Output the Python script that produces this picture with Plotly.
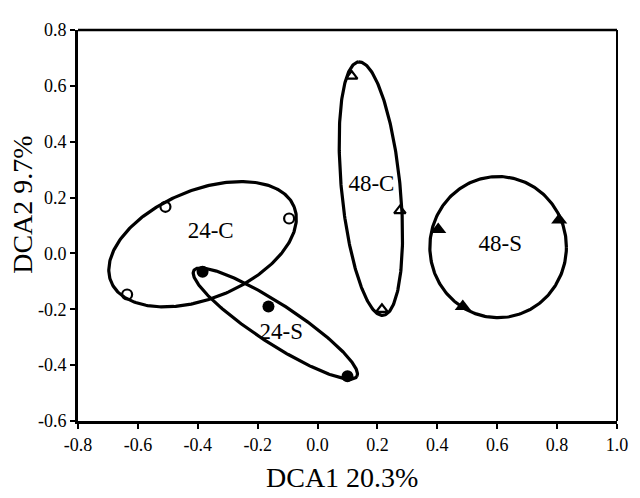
import numpy as np
import plotly.graph_objects as go

# Sample points (DCA1, DCA2)
c24_x = [-0.508, -0.095, -0.636]
c24_y = [0.167, 0.125, -0.147]
s24_x = [-0.384, -0.164, 0.100]
s24_y = [-0.066, -0.190, -0.440]
c48_x = [0.114, 0.275, 0.215]
c48_y = [0.635, 0.153, -0.200]
s48_x = [0.403, 0.807, 0.485]
s48_y = [0.086, 0.120, -0.190]

# Group ellipses: centre and two conjugate half-axis vectors (data units)
ell_names = ["24-C", "24-S", "48-C", "48-S"]
ell_cx = [-0.384, -0.141, 0.178, 0.603]
ell_cy = [0.033, -0.251, 0.232, 0.0226]
ell_ux = [0.3057, 0.272, -0.041, 0.228]
ell_uy = [0.1344, -0.190, 0.4537, 0.0]
ell_vx = [-0.068, 0.0357, 0.0976, 0.0]
ell_vy = [0.1796, 0.0593, 0.0102, 0.2527]

# Group labels
lab_x = [-0.357, -0.121, 0.180, 0.610]
lab_y = [0.076, -0.285, 0.245, 0.030]

x_ticks = [-0.8, -0.6, -0.4, -0.2, 0.0, 0.2, 0.4, 0.6, 0.8, 1.0]
x_ticktext = ["-0.8", "-0.6", "-0.4", "-0.2", "0.0", "0.2", "0.4", "0.6", "0.8", "1.0"]
y_ticks = [-0.6, -0.4, -0.2, 0.0, 0.2, 0.4, 0.6, 0.8]
y_ticktext = ["-0.6", "-0.4", "-0.2", "0.0", "0.2", "0.4", "0.6", "0.8"]

FONT = "Liberation Serif, Times New Roman, serif"

fig = go.Figure()

t = np.linspace(0, 2 * np.pi, 300)
for i in range(len(ell_names)):
    ex = ell_cx[i] + ell_ux[i] * np.cos(t) + ell_vx[i] * np.sin(t)
    ey = ell_cy[i] + ell_uy[i] * np.cos(t) + ell_vy[i] * np.sin(t)
    fig.add_trace(go.Scatter(x=ex, y=ey, mode="lines",
                             line=dict(color="black", width=3.2),
                             hoverinfo="skip", showlegend=False))

fig.add_trace(go.Scatter(x=c24_x, y=c24_y, mode="markers",
                         marker=dict(symbol="circle-open", size=10, color="black",
                                     line=dict(width=2.2, color="black")),
                         showlegend=False))
fig.add_trace(go.Scatter(x=s24_x, y=s24_y, mode="markers",
                         marker=dict(symbol="circle", size=12, color="black"),
                         showlegend=False))
fig.add_trace(go.Scatter(x=c48_x, y=c48_y, mode="markers",
                         marker=dict(symbol="triangle-up-open", size=10, color="black",
                                     line=dict(width=2.2, color="black")),
                         showlegend=False))
fig.add_trace(go.Scatter(x=s48_x, y=s48_y, mode="markers",
                         marker=dict(symbol="triangle-up", size=14, color="black"),
                         showlegend=False))

fig.add_trace(go.Scatter(x=lab_x, y=lab_y, mode="text", text=ell_names,
                         textfont=dict(family=FONT, size=23, color="black"),
                         textposition="middle center", showlegend=False))

fig.update_xaxes(range=[-0.8, 1.0], tickvals=x_ticks, ticktext=x_ticktext,
                 showgrid=False, zeroline=False, showline=True, linecolor="black",
                 linewidth=3, ticks="outside", ticklen=5, tickwidth=2,
                 tickcolor="black", tickfont=dict(family=FONT, size=18, color="black"))
fig.update_yaxes(range=[-0.6, 0.8], tickvals=y_ticks, ticktext=y_ticktext,
                 showgrid=False, zeroline=False, showline=True, linecolor="black",
                 linewidth=3, ticks="outside", ticklen=5, tickwidth=2,
                 tickcolor="black", tickfont=dict(family=FONT, size=18, color="black"))

# top and right frame lines
fig.add_shape(type="line", xref="paper", yref="paper", x0=0, x1=1, y0=1, y1=1,
              line=dict(color="black", width=2.5))
fig.add_shape(type="line", xref="paper", yref="paper", x0=1, x1=1, y0=0, y1=1,
              line=dict(color="black", width=2))

fig.add_annotation(text="DCA1 20.3%", xref="paper", yref="paper", x=0.49, y=-0.19,
                   showarrow=False, xanchor="center", yanchor="bottom",
                   font=dict(family=FONT, size=28, color="black"))
fig.add_annotation(text="DCA2 9.7%", xref="paper", yref="paper", x=-0.102, y=0.553,
                   showarrow=False, xanchor="center", yanchor="middle", textangle=-90,
                   font=dict(family=FONT, size=28, color="black"))

# page body adds an 8px margin, so the figure is sized 8px smaller
fig.update_layout(width=632, height=490, margin=dict(l=70, r=13, t=17, b=77),
                  plot_bgcolor="white", paper_bgcolor="white", showlegend=False)

fig.write_html("out.html")
